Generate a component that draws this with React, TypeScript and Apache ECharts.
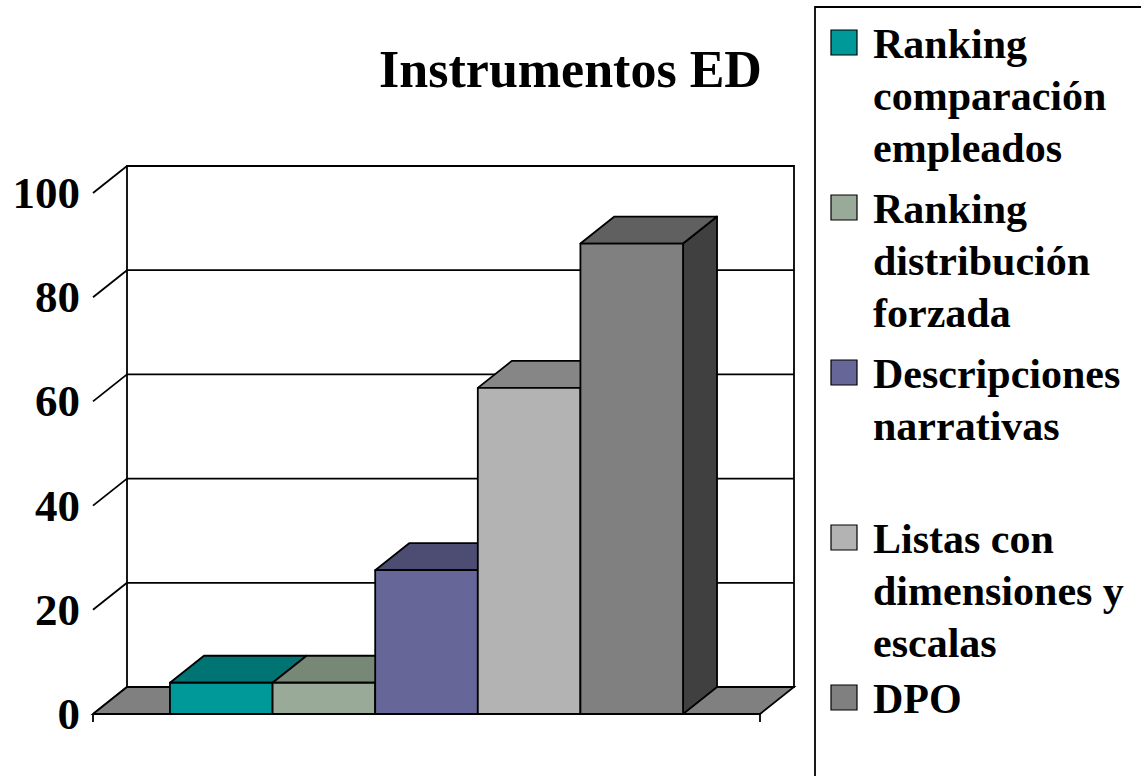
import { useEffect, useRef } from "react";
import * as echarts from "echarts";

// ---- data ----
const chartTitle = "Instrumentos ED";
const seriesLabels = [
  "Ranking\ncomparación\nempleados",
  "Ranking\ndistribución\nforzada",
  "Descripciones\nnarrativas",
  "Listas con\ndimensiones y\nescalas",
  "DPO",
];
const seriesValues = [6, 6, 27.6, 62.6, 90.3];
const yTicks = [0, 20, 40, 60, 80, 100];

// ---- styles ----
const frontColors = ["#009999", "#99AA99", "#666699", "#B3B3B3", "#808080"];
const topColors = ["#007373", "#778877", "#4D4D73", "#868686", "#606060"];
const sideColors = ["#004D4D", "#556655", "#33334D", "#5A5A5A", "#404040"];
const FONT = "'Liberation Serif', 'Times New Roman', Times, serif";
const LW = 1.8;

// ---- layout ----
const X_MIN = -1.25;
const X_MAX = 5.25;
const DX = 34; // depth offset of the 3D box, px
const DY = -27;
const legendBaselines = [58, 223, 388, 553, 713];

export default function App() {
  const ref = useRef<HTMLDivElement>(null);

  useEffect(() => {
    if (!ref.current) return;
    const chart = echarts.init(ref.current, null, { renderer: "svg" });

    const line = (a: number[], b: number[], w = LW) => ({
      type: "line",
      shape: { x1: a[0], y1: a[1], x2: b[0], y2: b[1] },
      style: { stroke: "#000", lineWidth: w },
    });

    // walls, floor and gridlines of the 3D box
    const frameSeries = {
      type: "custom",
      name: "frame",
      coordinateSystem: "cartesian2d",
      silent: true,
      clip: false,
      z: 1,
      data: [[X_MIN, 0]],
      renderItem: (_p: any, api: any) => {
        const c = (x: number, y: number) => api.coord([x, y]);
        const back = (pt: number[]) => [pt[0] + DX, pt[1] + DY];
        const children: any[] = [];
        const fl = c(X_MIN, 0);
        const fr = c(X_MAX, 0);
        const tl = c(X_MIN, yTicks[yTicks.length - 1]);
        const tr = c(X_MAX, yTicks[yTicks.length - 1]);
        // back wall
        children.push({
          type: "polygon",
          shape: { points: [back(tl), back(tr), back(fr), back(fl)] },
          style: { fill: "#fff", stroke: "#000", lineWidth: LW },
        });
        // back gridlines + left-wall diagonals
        yTicks.forEach((v) => {
          const l = c(X_MIN, v);
          const r = c(X_MAX, v);
          if (v !== 0 && v !== yTicks[yTicks.length - 1]) {
            children.push(line(back(l), back(r)));
          }
          children.push(line(l, back(l)));
        });
        // floor
        children.push({
          type: "polygon",
          shape: { points: [fl, fr, back(fr), back(fl)] },
          style: { fill: "#808080", stroke: "#000", lineWidth: LW },
        });
        children.push(line(fl, fr, 2.2));
        // end ticks of the category axis
        children.push(line(fl, [fl[0], fl[1] + 8]));
        children.push(line(fr, [fr[0], fr[1] + 8]));
        return { type: "group", children };
      },
    };

    const barSeries = seriesValues.map((v, i) => ({
      type: "custom",
      name: seriesLabels[i].replace(/\n/g, " "),
      coordinateSystem: "cartesian2d",
      clip: false,
      z: 2,
      data: [[i, v]],
      renderItem: (params: any, api: any) => {
        const k = params.seriesIndex - 1;
        const x = api.value(0);
        const val = api.value(1);
        const bl = api.coord([x - 0.5, 0]);
        const tr = api.coord([x + 0.5, val]);
        const edge = { stroke: "#000", lineWidth: LW, lineJoin: "round" };
        return {
          type: "group",
          children: [
            {
              type: "polygon",
              shape: {
                points: [
                  [tr[0], tr[1]],
                  [tr[0] + DX, tr[1] + DY],
                  [tr[0] + DX, bl[1] + DY],
                  [tr[0], bl[1]],
                ],
              },
              style: { fill: sideColors[k], ...edge },
            },
            {
              type: "polygon",
              shape: {
                points: [
                  [bl[0], tr[1]],
                  [tr[0], tr[1]],
                  [tr[0] + DX, tr[1] + DY],
                  [bl[0] + DX, tr[1] + DY],
                ],
              },
              style: { fill: topColors[k], ...edge },
            },
            {
              type: "rect",
              shape: { x: bl[0], y: tr[1], width: tr[0] - bl[0], height: bl[1] - tr[1] },
              style: { fill: frontColors[k], ...edge },
            },
          ],
        };
      },
    }));

    // legend box drawn as graphics so the swatch sits on the first text line
    const legendGraphics: any[] = [
      {
        type: "rect",
        shape: { x: 815, y: 7, width: 400, height: 820 },
        style: { fill: "#fff", stroke: "#000", lineWidth: LW },
        z: 0,
      },
    ];
    seriesLabels.forEach((label, i) => {
      const base = legendBaselines[i];
      legendGraphics.push({
        type: "rect",
        shape: { x: 831, y: base - 28, width: 26, height: 25 },
        style: { fill: frontColors[i], stroke: "#000", lineWidth: 1.2 },
        z: 1,
      });
      legendGraphics.push({
        type: "text",
        x: 873,
        y: base - 40,
        style: {
          text: label,
          font: `bold 42px ${FONT}`,
          fill: "#000",
          lineHeight: 52,
          verticalAlign: "top",
          align: "left",
        },
        z: 1,
      });
    });

    chart.setOption({
      animation: false,
      backgroundColor: "#fff",
      title: {
        text: chartTitle,
        left: "center",
        top: 38,
        textStyle: { fontFamily: FONT, fontWeight: "bold", fontSize: 52, color: "#000" },
      },
      grid: { left: 93, right: 381, top: 193, bottom: 62 },
      xAxis: { type: "value", min: X_MIN, max: X_MAX, show: false },
      yAxis: {
        type: "value",
        min: 0,
        max: 100,
        interval: 20,
        axisLine: { show: true, lineStyle: { color: "#000", width: LW } },
        axisTick: { show: true, length: 8, lineStyle: { color: "#000", width: LW } },
        axisLabel: {
          fontFamily: FONT,
          fontWeight: "bold",
          fontSize: 45,
          color: "#000",
          margin: 13,
        },
        splitLine: { show: false },
      },
      graphic: legendGraphics,
      series: [frameSeries, ...barSeries],
    });

    return () => chart.dispose();
  }, []);

  return (
    <div
      ref={ref}
      style={{ position: "absolute", left: 0, top: 0, width: 1141, height: 776 }}
    />
  );
}
